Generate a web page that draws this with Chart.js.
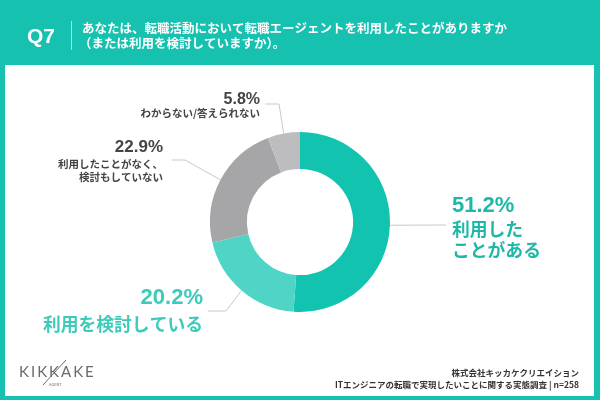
<!DOCTYPE html>
<html>
<head>
  <meta charset="utf-8" />
  <title>Q7</title>
  <script src="https://cdn.jsdelivr.net/npm/chart.js@4.4.1/dist/chart.umd.min.js"></script>
  <style>
    html, body { margin: 0; padding: 0; background: #17c1b0; }
    #wrap { width: 600px; height: 400px; }
  </style>
</head>
<body>
  <div id="wrap"><canvas id="q7"></canvas></div>
  <script>
    // data
    var answers = ["利用したことがある", "利用を検討している", "利用したことがなく、検討もしていない", "わからない/答えられない"];
    var shares = [51.2, 20.2, 22.9, 5.8];
    // label lines as shown next to each slice
    var labelLines = [["利用した", "ことがある"], ["利用を検討している"], ["利用したことがなく、", "検討もしていない"], ["わからない/答えられない"]];
    var sliceColors = ["#12c3af", "#4fd4c5", "#a6a6a8", "#bdbdbf"];

    var FONT = '"Noto Sans CJK JP", "Noto Sans", sans-serif';
    var NUMFONT = '"Liberation Sans", Arial, sans-serif';
    var TEAL = "#17c1b0";

    // where each callout sits: elbow and end of the leader line, text anchor
    var callouts = [
      { elbow: null, end: [446, 225], tx: 452, ty: 206, align: "left", big: 22, small: 17.8, lh: 21, color: "#1fb8a6", lineFrom: 23 },
      { elbow: [226, 311], end: [208, 311], tx: 203, ty: 298, align: "right", big: 22, small: 17.8, lh: 25, color: "#3ccbba", lineFrom: 26 },
      { elbow: [185, 160], end: [172, 160], tx: 163, ty: 147, align: "right", big: 17, small: 10.5, lh: 13.5, color: "#444", lineFrom: 17 },
      { elbow: [279, 104], end: [265, 104], tx: 260, ty: 100, align: "right", big: 16, small: 10.5, lh: 14, color: "#444", lineFrom: 13.5 }
    ];

    var background = {
      id: "background",
      beforeDraw: function(chart) {
        var ctx = chart.ctx;
        ctx.save();
        ctx.fillStyle = TEAL;
        ctx.fillRect(0, 0, chart.width, chart.height);
        ctx.fillStyle = "#ffffff";
        ctx.fillRect(5, 65, 589, 331);

        // header
        ctx.fillStyle = "#ffffff";
        ctx.textBaseline = "middle";
        ctx.font = "bold 21px " + NUMFONT;
        ctx.fillText("Q7", 27, 37);
        ctx.strokeStyle = "rgba(255,255,255,0.6)";
        ctx.lineWidth = 1;
        ctx.beginPath();
        ctx.moveTo(71.5, 21);
        ctx.lineTo(71.5, 50);
        ctx.stroke();
        ctx.font = "bold 12.5px " + FONT;
        ctx.fillText("あなたは、転職活動において転職エージェントを利用したことがありますか", 82, 28);
        ctx.fillText("（または利用を検討していますか）。", 79, 43);

        // footer
        ctx.fillStyle = "#6a6a6a";
        ctx.font = "15px Lato, " + FONT;
        ctx.letterSpacing = "2px";
        ctx.fillText("KIKKAKE", 19, 372);
        ctx.letterSpacing = "0px";
        ctx.font = "4px " + FONT;
        ctx.fillText("AGENT", 49, 384);
        ctx.strokeStyle = "#6a6a6a";
        ctx.lineWidth = 1;
        ctx.beginPath();
        ctx.moveTo(66, 360);
        ctx.lineTo(43, 385);
        ctx.stroke();

        ctx.fillStyle = "#333";
        ctx.textAlign = "right";
        ctx.font = "bold 8.5px " + FONT;
        ctx.fillText("株式会社キッカケクリエイション", 579, 373);
        ctx.fillText("ITエンジニアの転職で実現したいことに関する実態調査 | n=258", 579, 385);
        ctx.restore();
      }
    };

    var callout = {
      id: "callout",
      afterDatasetsDraw: function(chart) {
        var ctx = chart.ctx;
        var meta = chart.getDatasetMeta(0);
        ctx.save();
        meta.data.forEach(function(arc, i) {
          var c = callouts[i];
          var p = arc.getProps(["x", "y", "startAngle", "endAngle", "outerRadius"], true);
          var mid = (p.startAngle + p.endAngle) / 2;
          var sx = p.x + Math.cos(mid) * p.outerRadius;
          var sy = p.y + Math.sin(mid) * p.outerRadius;
          ctx.strokeStyle = "#c9c9c9";
          ctx.lineWidth = 1;
          ctx.beginPath();
          ctx.moveTo(sx, sy);
          if (c.elbow) ctx.lineTo(c.elbow[0], c.elbow[1]);
          ctx.lineTo(c.end[0], c.end[1]);
          ctx.stroke();

          ctx.fillStyle = c.color;
          ctx.textAlign = c.align;
          ctx.textBaseline = "middle";
          ctx.font = "bold " + c.big + "px " + NUMFONT;
          ctx.fillText(shares[i].toFixed(1) + "%", c.tx, c.ty);
          ctx.font = "bold " + c.small + "px " + FONT;
          labelLines[i].forEach(function(t, k) {
            ctx.fillText(t, c.tx, c.ty + c.lineFrom + k * c.lh);
          });
        });
        ctx.restore();
      }
    };

    new Chart(document.getElementById("q7"), {
      type: "doughnut",
      data: {
        labels: answers,
        datasets: [{
          data: shares,
          backgroundColor: sliceColors,
          borderWidth: 0
        }]
      },
      options: {
        responsive: true,
        maintainAspectRatio: false,
        animation: false,
        cutout: "59%",
        layout: { padding: { top: 132, bottom: 88, left: 210, right: 210 } },
        plugins: {
          legend: { display: false },
          tooltip: { enabled: false }
        }
      },
      plugins: [background, callout]
    });
  </script>
</body>
</html>
